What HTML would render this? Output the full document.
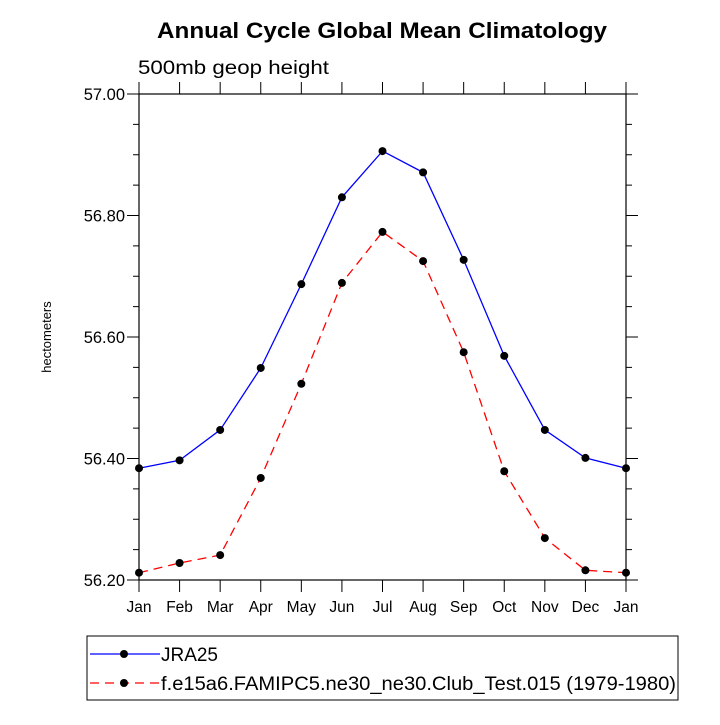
<!DOCTYPE html>
<html><head><meta charset="utf-8"><style>
body{margin:0;background:#fff}
svg text{font-family:"Liberation Sans",sans-serif}
</style></head><body>
<svg id="c" width="720" height="720" xmlns="http://www.w3.org/2000/svg">
<text x="382" y="38" font-size="22" font-weight="bold" text-anchor="middle" textLength="450" lengthAdjust="spacingAndGlyphs">Annual Cycle Global Mean Climatology</text>
<text x="138" y="74" font-size="19" textLength="191" lengthAdjust="spacingAndGlyphs">500mb geop height</text>
<text transform="translate(51,337) rotate(-90)" font-size="13" text-anchor="middle">hectometers</text>
<g id="axes"></g>
<g id="series"></g>
<rect x="87" y="636" width="591" height="64" fill="none" stroke="#000" stroke-width="1"/>
<g>
<line x1="90" y1="654" x2="160" y2="654" stroke="#0000ff" stroke-width="1.3"/>
<circle cx="124" cy="654" r="4" fill="#000"/>
<text x="161" y="661" font-size="19" textLength="57" lengthAdjust="spacingAndGlyphs">JRA25</text>
</g>
<g>
<line x1="90" y1="683" x2="160" y2="683" stroke="#ff0000" stroke-width="1.3" stroke-dasharray="9,6"/>
<circle cx="124" cy="683" r="4" fill="#000"/>
<text x="161" y="690" font-size="19" textLength="515" lengthAdjust="spacingAndGlyphs">f.e15a6.FAMIPC5.ne30_ne30.Club_Test.015 (1979-1980)</text>
</g>
</svg>
<script>
const months=["Jan","Feb","Mar","Apr","May","Jun","Jul","Aug","Sep","Oct","Nov","Dec","Jan"];
const jra25=[56.384,56.397,56.447,56.549,56.687,56.830,56.906,56.871,56.727,56.569,56.447,56.401,56.384];
const model=[56.212,56.228,56.241,56.368,56.523,56.689,56.773,56.725,56.575,56.379,56.269,56.216,56.212];
const yTicks=[56.20,56.40,56.60,56.80,57.00];
const L=139,R=626,T=94,B=580,ymin=56.2,ymax=57.0;
const NS="http://www.w3.org/2000/svg";
function xs(i){return L+(R-L)*i/(months.length-1);}
function ys(v){return B-(v-ymin)/(ymax-ymin)*(B-T);}
function mk(t,a,p){const e=document.createElementNS(NS,t);for(const k in a)e.setAttribute(k,a[k]);p.appendChild(e);return e;}
const ax=document.getElementById('axes');
const frame=mk('rect',{x:L,y:T,width:R-L,height:B-T,fill:'none',stroke:'#000','stroke-width':1.2},ax);


months.forEach((m,i)=>{const x=xs(i);
 mk('line',{x1:x,y1:B,x2:x,y2:B+12,stroke:'#000'},ax);
 mk('line',{x1:x,y1:T,x2:x,y2:T-12,stroke:'#000'},ax);
 const t=mk('text',{x:x,y:B+32,'font-size':15.5,'text-anchor':'middle'},ax);t.textContent=m;
 
 
});
for(let v=ymin;v<=ymax+1e-6;v+=0.05){const y=ys(v);const major=Math.abs(((v-ymin)/0.2)-Math.round((v-ymin)/0.2))<1e-6;const len=major?12:6;
 mk('line',{x1:L,y1:y,x2:L-len,y2:y,stroke:'#000'},ax);
 mk('line',{x1:R,y1:y,x2:R+len,y2:y,stroke:'#000'},ax);}
yTicks.forEach(v=>{const t=mk('text',{x:L-14,y:ys(v)+6,'font-size':16.5,'text-anchor':'end'},ax);t.textContent=v.toFixed(2);
 
 });
const sg=document.getElementById('series');
function draw(d,col,dash,name){const g=mk('g',{},sg);
 
 
 const a={points:d.map((v,i)=>xs(i)+','+ys(v)).join(' '),fill:'none',stroke:col,'stroke-width':1.3};if(dash)a['stroke-dasharray']=dash;
 mk('polyline',a,g);
 d.forEach((v,i)=>{const c=mk('circle',{cx:xs(i),cy:ys(v),r:4,fill:'#000'},g);
  
  });}
draw(jra25,'#0000ff',null,'series-jra25');
draw(model,'#ff0000','9,6','series-model');
</script>
</body></html>
